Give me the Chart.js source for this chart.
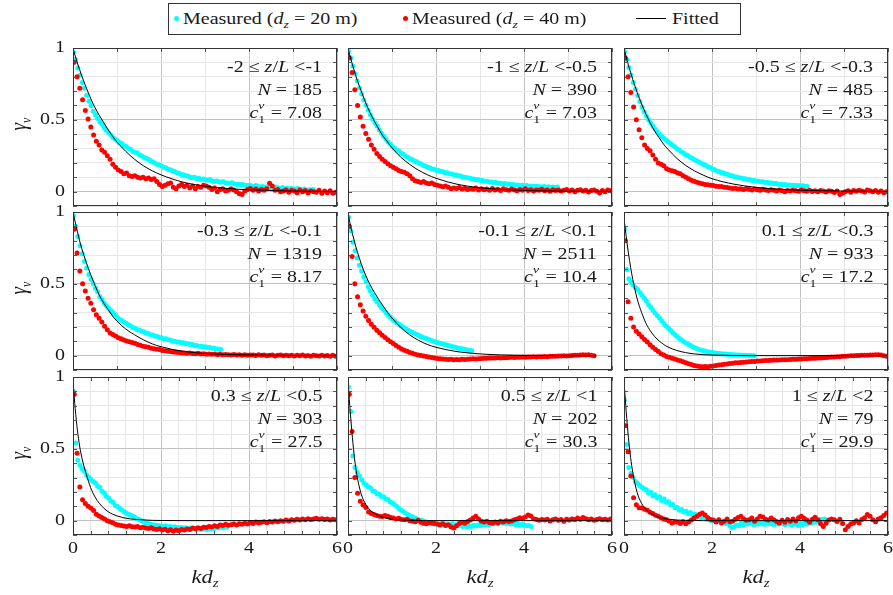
<!DOCTYPE html>
<html>
<head>
<meta charset="utf-8">
<title>Vertical coherence vs kd_z</title>
<script src="https://cdn.jsdelivr.net/npm/chart.js@4.4.1/dist/chart.umd.min.js"></script>
<style>
  body { margin: 0; background: #fff; }
  #fig { position: relative; width: 893px; height: 595px; overflow: hidden;
         font-family: "Liberation Serif", "Times New Roman", serif; color: #1a1a1a; }
  #fig canvas { position: absolute; }
  .txt { position: absolute; white-space: nowrap; font-size: 16px; line-height: 20px; }
  .note { text-align: right; transform: scaleX(1.25); transform-origin: 100% 0; }
  .note div { height: 23px; line-height: 23px; }
  .sc { display: inline-block; position: relative; width: 6px; height: 10px; }
  .sc .sp, .sc .sb { position: absolute; left: 0; font-size: 11px; line-height: 11px; }
  .sc .sp { top: -8px; font-style: italic; }
  .sc .sb { top: 6px; }
  .sub { font-size: 11px; position: relative; top: 4px; }
  .lg { transform: scaleX(1.25); transform-origin: 0 0; }
  .xlab { font-size: 18px; transform: translate(-50%, 0) scaleX(1.25); }
  .ylab { font-size: 19px; transform: translate(-50%, -50%) rotate(-90deg) scaleY(1.25); }
  .xlab .sub, .ylab .sub { font-size: 12px; }
  #legend { position: absolute; left: 168px; top: 3px; width: 571px; height: 30px; border: 1px solid #333; }
  .dot { position: absolute; width: 5px; height: 5px; border-radius: 50%; }
  .lline { position: absolute; height: 1px; background: #000; }
</style>
</head>
<body>
<div id="fig">
  <div id="legend"></div>
</div>
<script>
// sampling of the measured curves in kd_z
const cyanX0 = 0.01, cyanStep = 0.05;     // d_z = 20 m
const redX0 = 0.03, redStep = 0.0625;     // d_z = 40 m

// abscissae of the fitted curves
const fitX = [0.01, 0.05, 0.1, 0.15, 0.2, 0.3, 0.4, 0.5, 0.6, 0.7, 0.8, 0.9, 1.0,
              1.2, 1.4, 1.6, 1.8, 2.0, 2.5, 3.0, 3.5, 4.0, 5.0, 6.0];
const fitX5 = [0.01, 0.05, 0.1, 0.15, 0.2, 0.3, 0.4, 0.5, 0.6, 0.7, 0.8, 0.9, 1.0,
               1.2, 1.4, 1.6, 1.8, 2.0, 2.5, 3.0, 3.5, 4.0, 5.0, 5.64];

// -2 <= z/L < -1
const cyan1 = [0.97,0.92,0.86,0.81,0.76,0.72,0.67,0.63,0.60,0.56,
  0.535,0.51,0.485,0.47,0.445,0.425,0.41,0.395,0.375,0.365,
  0.355,0.34,0.335,0.32,0.315,0.30,0.295,0.28,0.275,0.27,
  0.255,0.25,0.24,0.232,0.225,0.215,0.207,0.20,0.19,0.185,
  0.178,0.17,0.166,0.155,0.152,0.145,0.14,0.132,0.128,0.12,
  0.118,0.11,0.108,0.10,0.096,0.10,0.09,0.094,0.085,0.088,
  0.082,0.08,0.084,0.075,0.07,0.074,0.068,0.065,0.07,0.062,
  0.06,0.058,0.062,0.055,0.05,0.054,0.048,0.05,0.045,0.042,
  0.044,0.04,0.038,0.042,0.035,0.032,0.036,0.03,0.033,0.028,
  0.03,0.026,0.032,0.025,0.022,0.028,0.02,0.024,0.018,0.022,
  0.02,0.016,0.022,0.015,0.012,0.018,0.01,0.014,0.012,0.015];
const red1 = [0.90,0.80,0.72,0.64,0.565,0.505,0.45,0.395,0.35,0.325,
  0.29,0.275,0.25,0.225,0.19,0.17,0.15,0.14,0.125,0.13,
  0.11,0.105,0.11,0.10,0.095,0.10,0.09,0.095,0.085,0.09,
  0.07,0.05,0.035,0.045,0.055,0.06,0.03,0.02,0.04,0.05,
  0.035,0.045,0.025,0.04,0.02,0.035,0.03,0.045,0.04,0.03,
  0.015,0.025,0.0,0.015,0.02,0.005,0.01,0.02,0.012,0.0,
  -0.015,-0.02,0.005,0.015,0.022,0.01,0.018,0.005,0.015,0.01,
  0.02,0.058,0.04,0.01,0.015,0.0,0.005,0.012,-0.005,0.01,
  0.005,-0.008,0.012,0.0,0.008,-0.01,0.005,0.0,-0.005,0.01,
  -0.012,0.004,-0.008,0.006,-0.012,-0.005];
const fit1 = [0.985,0.945,0.895,0.85,0.805,0.725,0.65,0.585,0.53,0.48,0.43,0.385,0.345,
  0.28,0.225,0.18,0.145,0.117,0.066,0.038,0.022,0.013,0.004,0.001];

// -1 <= z/L < -0.5
const cyan2 = [0.98,0.93,0.875,0.822,0.77,0.722,0.68,0.638,0.602,0.566,
  0.535,0.506,0.48,0.457,0.43,0.407,0.385,0.366,0.345,0.332,
  0.315,0.302,0.29,0.281,0.268,0.26,0.247,0.24,0.229,0.224,
  0.212,0.208,0.197,0.192,0.182,0.178,0.169,0.167,0.158,0.156,
  0.148,0.147,0.14,0.139,0.132,0.131,0.124,0.123,0.117,0.116,
  0.11,0.109,0.102,0.101,0.096,0.095,0.089,0.088,0.083,0.082,
  0.077,0.077,0.072,0.072,0.067,0.067,0.063,0.063,0.059,0.059,
  0.055,0.057,0.052,0.054,0.049,0.05,0.045,0.047,0.043,0.044,
  0.04,0.042,0.037,0.04,0.035,0.037,0.036,0.034,0.033,0.036,
  0.031,0.034,0.03,0.033,0.029,0.032];
const red2 = [0.93,0.83,0.71,0.60,0.52,0.455,0.405,0.365,0.325,0.295,
  0.265,0.245,0.225,0.21,0.195,0.18,0.17,0.16,0.148,0.14,
  0.135,0.125,0.11,0.09,0.075,0.07,0.064,0.07,0.06,0.055,
  0.06,0.05,0.045,0.04,0.034,0.04,0.03,0.02,0.026,0.022,
  0.028,0.018,0.024,0.015,0.022,0.016,0.026,0.012,0.02,0.014,
  0.018,0.01,0.022,0.012,0.016,0.008,0.02,0.013,0.01,0.018,
  0.012,0.006,0.015,0.01,0.02,0.008,0.014,0.004,0.012,0.009,
  0.016,0.006,0.011,0.002,0.014,0.008,0.012,0.004,0.01,0.015,
  0.005,0.012,0.0,0.009,0.014,0.004,0.01,-0.002,0.008,0.012,
  0.003,-0.01,0.008,0.0,0.012,0.006];
const fit2 = [0.985,0.94,0.885,0.835,0.785,0.70,0.62,0.55,0.49,0.435,0.385,0.345,0.305,
  0.24,0.19,0.15,0.118,0.093,0.05,0.027,0.015,0.008,0.003,0.001];

// -0.5 <= z/L < -0.3
const cyan3 = [0.975,0.92,0.865,0.812,0.76,0.713,0.67,0.628,0.59,0.556,
  0.525,0.5,0.476,0.455,0.434,0.416,0.4,0.384,0.37,0.357,
  0.345,0.334,0.321,0.311,0.297,0.288,0.276,0.267,0.256,0.249,
  0.238,0.231,0.22,0.214,0.204,0.198,0.189,0.183,0.174,0.168,
  0.158,0.153,0.144,0.14,0.133,0.13,0.123,0.12,0.113,0.11,
  0.104,0.102,0.096,0.095,0.09,0.089,0.084,0.083,0.078,0.078,
  0.073,0.072,0.068,0.068,0.064,0.064,0.06,0.06,0.056,0.056,
  0.052,0.052,0.048,0.049,0.045,0.046,0.043,0.044,0.041,0.042,
  0.039,0.041,0.037,0.038];
const red3 = [0.93,0.80,0.69,0.59,0.50,0.43,0.375,0.325,0.30,0.285,
  0.255,0.225,0.20,0.19,0.18,0.16,0.15,0.145,0.14,0.13,
  0.125,0.11,0.10,0.09,0.08,0.072,0.066,0.06,0.055,0.05,
  0.048,0.045,0.042,0.038,0.035,0.036,0.03,0.028,0.025,0.022,
  0.024,0.018,0.02,0.015,0.022,0.016,0.012,0.018,0.014,0.01,
  0.016,0.012,0.008,0.014,0.01,0.004,0.012,0.006,0.0,0.008,
  0.004,0.01,0.006,0.002,0.012,0.007,0.003,0.009,0.001,0.006,
  0.0,0.008,0.004,-0.002,0.006,0.002,-0.006,0.004,-0.02,-0.012,
  0.0,0.006,-0.004,0.008,0.002,0.01,0.004,-0.002,0.012,0.006,
  0.0,0.008,-0.004,0.004,-0.008,0.0];
const fit3 = [0.985,0.94,0.88,0.83,0.78,0.69,0.61,0.54,0.475,0.42,0.375,0.33,0.295,
  0.232,0.183,0.145,0.115,0.09,0.052,0.03,0.017,0.01,0.004,0.001];

// -0.3 <= z/L < -0.1
const cyan4 = [0.975,0.90,0.83,0.765,0.71,0.655,0.61,0.565,0.53,0.50,
  0.47,0.445,0.41,0.39,0.365,0.345,0.33,0.315,0.30,0.285,
  0.266,0.252,0.245,0.232,0.225,0.213,0.207,0.196,0.191,0.181,
  0.178,0.169,0.166,0.157,0.154,0.146,0.144,0.136,0.134,0.127,
  0.125,0.118,0.117,0.11,0.109,0.102,0.101,0.095,0.095,0.089,
  0.089,0.083,0.083,0.077,0.077,0.071,0.071,0.066,0.066,0.061,
  0.061,0.056,0.056,0.051,0.051,0.047,0.047,0.043];
const red4 = [0.88,0.715,0.59,0.50,0.45,0.40,0.365,0.32,0.285,0.26,
  0.235,0.205,0.18,0.158,0.148,0.136,0.125,0.117,0.109,0.102,
  0.097,0.092,0.086,0.078,0.072,0.066,0.062,0.058,0.052,0.048,
  0.045,0.042,0.036,0.034,0.03,0.028,0.026,0.024,0.021,0.02,
  0.019,0.017,0.018,0.015,0.014,0.016,0.012,0.013,0.01,0.012,
  0.009,0.011,0.007,0.01,0.006,0.008,0.007,0.005,0.008,0.004,
  0.006,0.003,0.007,0.002,0.005,0.004,0.001,0.006,0.002,0.004,
  0.0,0.003,0.005,-0.002,0.002,0.004,-0.001,0.003,0.0,0.002,
  -0.003,0.002,0.0,0.004,-0.002,0.001,-0.004,0.002,0.0,-0.002,
  0.003,-0.003,0.001,-0.004,0.002,-0.005];
const fit4 = [0.985,0.93,0.865,0.80,0.745,0.65,0.565,0.49,0.42,0.365,0.32,0.275,0.24,
  0.185,0.145,0.11,0.082,0.062,0.03,0.015,0.008,0.004,0.001,0.0];

// -0.1 <= z/L < 0.1
const cyan5 = [0.965,0.87,0.79,0.73,0.68,0.63,0.59,0.55,0.515,0.48,
  0.45,0.42,0.395,0.375,0.355,0.335,0.318,0.30,0.284,0.268,
  0.254,0.241,0.229,0.218,0.207,0.197,0.187,0.178,0.17,0.162,
  0.154,0.147,0.14,0.133,0.127,0.121,0.115,0.109,0.104,0.099,
  0.094,0.089,0.085,0.081,0.077,0.072,0.068,0.064,0.06,0.056,
  0.052,0.049,0.046,0.043,0.04,0.037,0.034];
const red5 = [0.90,0.69,0.50,0.41,0.355,0.31,0.275,0.245,0.218,0.197,
  0.177,0.16,0.142,0.126,0.11,0.097,0.085,0.07,0.058,0.047,
  0.037,0.03,0.022,0.016,0.01,0.005,0.001,-0.003,-0.006,-0.01,
  -0.013,-0.016,-0.02,-0.022,-0.024,-0.025,-0.027,-0.026,-0.028,-0.027,
  -0.028,-0.026,-0.027,-0.025,-0.024,-0.022,-0.023,-0.021,-0.02,-0.019,
  -0.018,-0.017,-0.016,-0.017,-0.015,-0.016,-0.014,-0.015,-0.013,-0.012,
  -0.013,-0.011,-0.012,-0.01,-0.011,-0.009,-0.01,-0.008,-0.009,-0.007,
  -0.008,-0.006,-0.007,-0.005,-0.005,-0.004,-0.003,-0.003,-0.001,-0.002,
  0.0,0.001,0.003,0.002,0.005,0.007,0.004,0.006,0.002,0.0];
const fit5 = [0.98,0.915,0.85,0.79,0.735,0.64,0.56,0.495,0.44,0.39,0.345,0.30,0.262,
  0.196,0.145,0.107,0.078,0.058,0.027,0.012,0.005,0.002,0.0,0.0];

// 0.1 <= z/L < 0.3
const cyan6 = [0.88,0.60,0.535,0.51,0.49,0.475,0.46,0.44,0.42,0.40,
  0.38,0.355,0.335,0.315,0.295,0.277,0.26,0.242,0.222,0.205,
  0.19,0.175,0.16,0.146,0.133,0.12,0.108,0.097,0.088,0.079,
  0.07,0.062,0.055,0.048,0.043,0.038,0.034,0.03,0.026,0.023,
  0.021,0.019,0.017,0.015,0.013,0.012,0.011,0.009,0.008,0.007,
  0.006,0.005,0.004,0.003,0.003,0.002,0.001,0.001,0.0,0.0];
const red6 = [0.80,0.375,0.26,0.20,0.17,0.15,0.132,0.112,0.095,0.075,
  0.058,0.042,0.028,0.014,0.004,-0.006,-0.012,-0.018,-0.024,-0.03,
  -0.036,-0.043,-0.05,-0.056,-0.062,-0.068,-0.072,-0.075,-0.078,-0.076,
  -0.078,-0.074,-0.072,-0.068,-0.066,-0.063,-0.06,-0.058,-0.055,-0.053,
  -0.05,-0.049,-0.047,-0.046,-0.044,-0.043,-0.041,-0.04,-0.038,-0.037,
  -0.035,-0.034,-0.033,-0.032,-0.031,-0.031,-0.03,-0.029,-0.028,-0.028,
  -0.027,-0.026,-0.025,-0.024,-0.023,-0.022,-0.021,-0.02,-0.019,-0.018,
  -0.017,-0.016,-0.014,-0.013,-0.012,-0.01,-0.009,-0.008,-0.007,-0.005,
  -0.004,-0.002,-0.001,0.0,0.001,0.001,0.002,0.003,0.002,0.004,
  0.005,0.007,0.006,0.004,0.0,-0.004];
const fit6 = [0.93,0.83,0.715,0.615,0.53,0.395,0.30,0.225,0.172,0.132,0.102,0.078,0.06,
  0.036,0.021,0.012,0.007,0.004,0.001,0.0,0.0,0.0,0.0,0.0];

// 0.3 <= z/L < 0.5
const cyan7 = [0.90,0.54,0.42,0.385,0.362,0.345,0.318,0.30,0.285,0.272,
  0.262,0.24,0.232,0.205,0.193,0.168,0.158,0.136,0.128,0.106,
  0.098,0.085,0.074,0.062,0.053,0.045,0.037,0.03,0.022,0.014,
  0.007,0.0,-0.008,-0.016,-0.02,-0.024,-0.028,-0.03,-0.034,-0.036,
  -0.038,-0.04,-0.036,-0.044,-0.041,-0.046,-0.043,-0.048,-0.05,-0.047,
  -0.052,-0.049,-0.055,-0.052,-0.058,-0.055,-0.06,-0.057,-0.062,-0.06,
  -0.058,-0.061,-0.056,-0.054,-0.057,-0.05,-0.052,-0.047,-0.049,-0.044,
  -0.042];
const red7 = [0.88,0.47,0.235,0.145,0.12,0.10,0.088,0.07,0.045,0.032,
  0.022,0.012,0.0,-0.008,-0.015,-0.025,-0.03,-0.034,-0.038,-0.04,
  -0.036,-0.042,-0.045,-0.04,-0.05,-0.046,-0.052,-0.055,-0.05,-0.058,
  -0.062,-0.056,-0.065,-0.06,-0.07,-0.064,-0.074,-0.066,-0.07,-0.062,
  -0.066,-0.058,-0.062,-0.052,-0.056,-0.05,-0.054,-0.046,-0.048,-0.04,
  -0.044,-0.036,-0.04,-0.03,-0.034,-0.026,-0.032,-0.028,-0.024,-0.03,
  -0.022,-0.026,-0.018,-0.024,-0.014,-0.02,-0.01,-0.016,-0.012,-0.008,
  -0.014,-0.006,-0.01,-0.002,-0.008,0.0,-0.004,0.004,-0.002,0.006,
  0.002,0.01,0.004,0.012,0.006,0.014,0.008,0.012,0.016,0.01,
  0.014,0.008,0.012,0.004,0.01,0.006];
const fit7 = [0.93,0.78,0.63,0.52,0.44,0.325,0.23,0.165,0.12,0.087,0.062,0.045,0.033,
  0.017,0.009,0.005,0.002,0.001,0.0,0.0,0.0,0.0,0.0,0.0];

// 0.5 <= z/L < 1
const cyan8 = [0.93,0.76,0.45,0.37,0.335,0.31,0.285,0.262,0.25,0.235,
  0.228,0.208,0.203,0.186,0.184,0.168,0.166,0.15,0.148,0.13,
  0.122,0.11,0.098,0.085,0.073,0.062,0.052,0.042,0.034,0.027,
  0.02,0.013,0.007,0.002,-0.003,-0.008,-0.012,-0.016,-0.02,-0.022,
  -0.025,-0.03,-0.022,-0.032,-0.026,-0.028,-0.034,-0.024,-0.03,-0.028,
  -0.036,-0.03,-0.04,-0.034,-0.042,-0.036,-0.04,-0.032,-0.038,-0.03,
  -0.034,-0.026,-0.03,-0.022,-0.028,-0.02,-0.024,-0.016,-0.02,-0.014,
  -0.018,-0.014,-0.02,-0.016,-0.024,-0.02,-0.028,-0.024,-0.03,-0.026,
  -0.032,-0.036,-0.034,-0.04];
const red8 = [0.88,0.62,0.30,0.19,0.135,0.108,0.092,0.06,0.05,0.042,
  0.036,0.03,0.028,0.035,0.03,0.022,0.018,0.012,0.016,0.008,
  0.006,0.01,0.0,-0.004,-0.008,0.002,-0.012,-0.018,-0.022,-0.014,
  -0.016,-0.02,-0.024,-0.03,-0.022,-0.034,-0.028,-0.045,-0.052,-0.036,
  -0.02,-0.012,-0.018,-0.006,0.004,0.018,0.03,0.012,-0.004,-0.01,
  -0.005,-0.014,-0.018,-0.01,-0.016,-0.004,-0.01,0.0,-0.006,-0.002,
  0.006,0.012,0.02,0.016,0.026,0.04,0.032,0.014,0.008,0.002,
  0.008,0.004,0.01,-0.002,0.006,0.012,0.002,0.008,-0.004,0.01,
  0.004,0.012,0.008,0.018,0.01,0.022,0.014,0.006,0.012,0.002,
  0.008,0.014,0.006,0.01,0.004,0.012];
const fit8 = [0.93,0.76,0.58,0.43,0.32,0.185,0.115,0.074,0.05,0.033,0.022,0.014,0.009,
  0.004,0.002,0.001,0.0,0.0,0.0,0.0,0.0,0.0,0.0,0.0];

// 1 <= z/L < 2
const cyan9 = [0.84,0.53,0.37,0.33,0.30,0.272,0.258,0.245,0.232,0.222,
  0.215,0.19,0.198,0.172,0.18,0.158,0.166,0.14,0.15,0.128,
  0.132,0.11,0.112,0.09,0.092,0.072,0.078,0.06,0.066,0.05,
  0.056,0.04,0.046,0.03,0.036,0.02,0.028,0.012,0.018,0.002,
  0.003,-0.002,-0.008,0.004,-0.014,-0.006,-0.02,-0.01,-0.036,-0.05,
  -0.04,-0.03,-0.036,-0.02,-0.028,-0.014,-0.024,-0.01,-0.02,-0.03,
  -0.016,-0.024,-0.01,-0.02,-0.026,-0.012,-0.022,-0.016,-0.028,-0.018,
  -0.024,-0.014,-0.02,-0.028,-0.016,-0.024,-0.03,-0.02,-0.026,-0.034,
  -0.022,-0.028,-0.016,-0.024,-0.01,-0.018,-0.006,-0.012,0.0,0.008,
  0.004,0.012];
const red9 = [0.66,0.48,0.31,0.16,0.11,0.09,0.088,0.08,0.072,0.058,
  0.05,0.038,0.03,0.02,0.012,0.006,-0.004,-0.016,-0.01,-0.012,
  -0.02,-0.008,-0.021,-0.01,0.005,0.019,0.03,0.045,0.053,0.04,
  0.02,0.008,0.004,-0.01,0.006,-0.016,-0.004,0.012,-0.008,-0.005,
  0.01,0.022,0.03,0.014,0.002,0.007,0.018,-0.004,0.012,0.03,
  0.026,0.01,0.004,0.018,0.007,-0.006,-0.016,0.002,-0.012,0.008,
  -0.005,0.012,-0.002,0.02,0.03,0.016,0.004,-0.012,0.01,0.024,
  0.006,-0.022,-0.04,-0.018,0.004,0.012,0.007,-0.006,0.01,-0.02,
  -0.063,-0.04,-0.024,-0.016,0.0,-0.016,0.008,0.02,0.042,0.03,
  0.007,-0.008,0.012,0.02,0.035,0.053];
const fit9 = [0.93,0.76,0.58,0.44,0.335,0.195,0.12,0.078,0.052,0.035,0.023,0.015,0.01,
  0.004,0.002,0.001,0.0,0.0,0.0,0.0,0.0,0.0,0.0,0.0];

// panel annotations
const zlLow  = ['-2', '-1', '-0.5', '-0.3', '-0.1', '0.1', '0.3', '0.5', '1'];
const zlHigh = ['-1', '-0.5', '-0.3', '-0.1', '0.1', '0.3', '0.5', '1', '2'];
const nCount = [185, 390, 485, 1319, 2511, 933, 303, 202, 79];
const c1v = ['7.08', '7.03', '7.33', '8.17', '10.4', '17.2', '27.5', '30.3', '29.9'];

const yTickLabels = [0, 0.5, 1];
const xTickLabels = [0, 2, 4, 6];

const cyanSets = [cyan1, cyan2, cyan3, cyan4, cyan5, cyan6, cyan7, cyan8, cyan9];
const redSets = [red1, red2, red3, red4, red5, red6, red7, red8, red9];
const fitSets = [fit1, fit2, fit3, fit4, fit5, fit6, fit7, fit8, fit9];
const fitXs = [fitX, fitX, fitX, fitX, fitX5, fitX, fitX, fitX, fitX];

// layout
const colLeft = [73, 348, 624];
const rowTop = [48, 212, 377];
const plotW = 264, plotH = 158;
const pad = { l: 60, r: 12, t: 12, b: 40 };
const SERIF = '"Liberation Serif", "Times New Roman", serif';
const TEXT = '#1a1a1a';
const WIDE = 1.25;   // glyphs in this figure are drawn wider than tall
const MAJOR = '#c2c2c2', MINOR = '#e6e6e6';
const DOT = 2.5;

const fig = document.getElementById('fig');

function onStep(v, step) {
  return Math.abs(v / step - Math.round(v / step)) < 1e-6;
}

function grid(x0, step, ys) {
  return ys.map((y, i) => ({ x: +(x0 + i * step).toFixed(4), y }));
}

function addText(cls, style, html) {
  const d = document.createElement('div');
  d.className = 'txt ' + cls;
  Object.assign(d.style, style);
  d.innerHTML = html;
  fig.appendChild(d);
  return d;
}

// frame, inner tick marks and tick labels of one panel
const panelFrame = {
  id: 'panelFrame',
  afterDatasetsDraw(chart) {
    const { ctx, chartArea: a, scales: { x, y } } = chart;
    ctx.save();
    ctx.strokeStyle = '#555';
    ctx.lineWidth = 1;
    ctx.beginPath();
    x.ticks.forEach(t => {
      const px = Math.round(x.getPixelForValue(t.value)) + 0.5;
      ctx.moveTo(px, a.top); ctx.lineTo(px, a.top + 4);
      ctx.moveTo(px, a.bottom); ctx.lineTo(px, a.bottom - 4);
    });
    y.ticks.forEach(t => {
      const py = Math.round(y.getPixelForValue(t.value)) + 0.5;
      ctx.moveTo(a.left, py); ctx.lineTo(a.left + 4, py);
      ctx.moveTo(a.right, py); ctx.lineTo(a.right - 4, py);
    });
    ctx.stroke();
    ctx.strokeStyle = '#333';
    ctx.strokeRect(a.left + 0.5, a.top + 0.5, a.width - 1, a.height - 1);
    ctx.restore();
  },
  afterDraw(chart, args, opts) {
    const { ctx, chartArea: a, scales: { x, y } } = chart;
    ctx.save();
    ctx.fillStyle = TEXT;
    ctx.font = '16px ' + SERIF;
    ctx.textBaseline = 'middle';
    if (opts.yLabels) {
      ctx.textAlign = 'right';
      yTickLabels.forEach(v => {
        ctx.save();
        ctx.translate(a.left - 8, y.getPixelForValue(v));
        ctx.scale(WIDE, 1);
        ctx.fillText(String(v), 0, 0);
        ctx.restore();
      });
    }
    if (opts.xLabels) {
      ctx.textAlign = 'center';
      xTickLabels.forEach(v => {
        ctx.save();
        ctx.translate(x.getPixelForValue(v), a.bottom + 14);
        ctx.scale(WIDE, 1);
        ctx.fillText(String(v), 0, 0);
        ctx.restore();
      });
    }
    ctx.restore();
  }
};

for (let p = 0; p < 9; p++) {
  const r = Math.floor(p / 3), c = p % 3;
  const canvas = document.createElement('canvas');
  canvas.width = plotW + pad.l + pad.r;
  canvas.height = plotH + pad.t + pad.b;
  canvas.style.left = (colLeft[c] - pad.l) + 'px';
  canvas.style.top = (rowTop[r] - pad.t) + 'px';
  fig.appendChild(canvas);

  const fitPts = fitXs[p].map((x, i) => ({ x, y: fitSets[p][i] }));

  new Chart(canvas, {
    type: 'scatter',
    data: {
      datasets: [
        { label: 'Fitted', data: fitPts, showLine: true, borderColor: '#000', borderWidth: 1,
          pointRadius: 0, cubicInterpolationMode: 'monotone', clip: 0 },
        { label: 'Measured (dz = 40 m)', data: grid(redX0, redStep, redSets[p]),
          backgroundColor: '#ff0000', borderWidth: 0, pointRadius: DOT, clip: 0 },
        { label: 'Measured (dz = 20 m)', data: grid(cyanX0, cyanStep, cyanSets[p]),
          backgroundColor: '#00ffff', borderWidth: 0, pointRadius: DOT, clip: 0 }
      ]
    },
    options: {
      responsive: false,
      animation: false,
      devicePixelRatio: 1,
      events: [],
      layout: { padding: { left: 0, right: pad.r, top: pad.t, bottom: 0 } },
      plugins: {
        legend: { display: false },
        tooltip: { enabled: false },
        panelFrame: { yLabels: c === 0, xLabels: r === 2 }
      },
      scales: {
        x: {
          type: 'linear', min: 0, max: 6,
          ticks: { display: false, stepSize: r === 2 ? 0.4 : 1, autoSkip: false },
          grid: { color: ctx => onStep(ctx.tick.value, 2) ? MAJOR : MINOR, drawTicks: false },
          border: { display: false },
          afterFit: s => { s.height = pad.b; }
        },
        y: {
          type: 'linear', min: -0.1, max: 1,
          ticks: { display: false, stepSize: 0.1, autoSkip: false },
          grid: { color: ctx => onStep(ctx.tick.value, 0.5) ? MAJOR : MINOR, drawTicks: false },
          border: { display: false },
          afterFit: s => { s.width = pad.l; }
        }
      }
    },
    plugins: [panelFrame]
  });

  // stability class, sample count and fitted coefficient
  addText('note', { right: (893 - (colLeft[c] + plotW - 15)) + 'px', top: (rowTop[r] + 7) + 'px' },
    `<div>${zlLow[p]} ≤ <i>z</i>/<i>L</i> &lt;${zlHigh[p]}</div>` +
    `<div><i>N</i> = ${nCount[p]}</div>` +
    `<div><i>c</i><span class="sc"><span class="sp">v</span><span class="sb">1</span></span> = ${c1v[p]}</div>`);
}

// axis titles
for (let r = 0; r < 3; r++) {
  addText('ylab', { left: '20px', top: (rowTop[r] + plotH / 2 - 3) + 'px' },
    '<i>γ</i><span class="sub"><i>v</i></span>');
}
for (let c = 0; c < 3; c++) {
  addText('xlab', { left: (colLeft[c] + plotW / 2) + 'px', top: '567px' },
    '<i>kd</i><span class="sub"><i>z</i></span>');
}

// legend
function legendDot(x, color) {
  const d = document.createElement('div');
  d.className = 'dot';
  Object.assign(d.style, { left: (x - 2.5) + 'px', top: '16px', background: color });
  fig.appendChild(d);
}
legendDot(176, '#00ffff');
legendDot(405, '#ff0000');
const ln = document.createElement('div');
ln.className = 'lline';
Object.assign(ln.style, { left: '636px', width: '30px', top: '18px' });
fig.appendChild(ln);
addText('lg', { left: '183px', top: '9px' }, 'Measured (<i>d</i><span class="sub"><i>z</i></span> = 20 m)');
addText('lg', { left: '412px', top: '9px' }, 'Measured (<i>d</i><span class="sub"><i>z</i></span> = 40 m)');
addText('lg', { left: '672px', top: '9px' }, 'Fitted');
</script>
</body>
</html>
